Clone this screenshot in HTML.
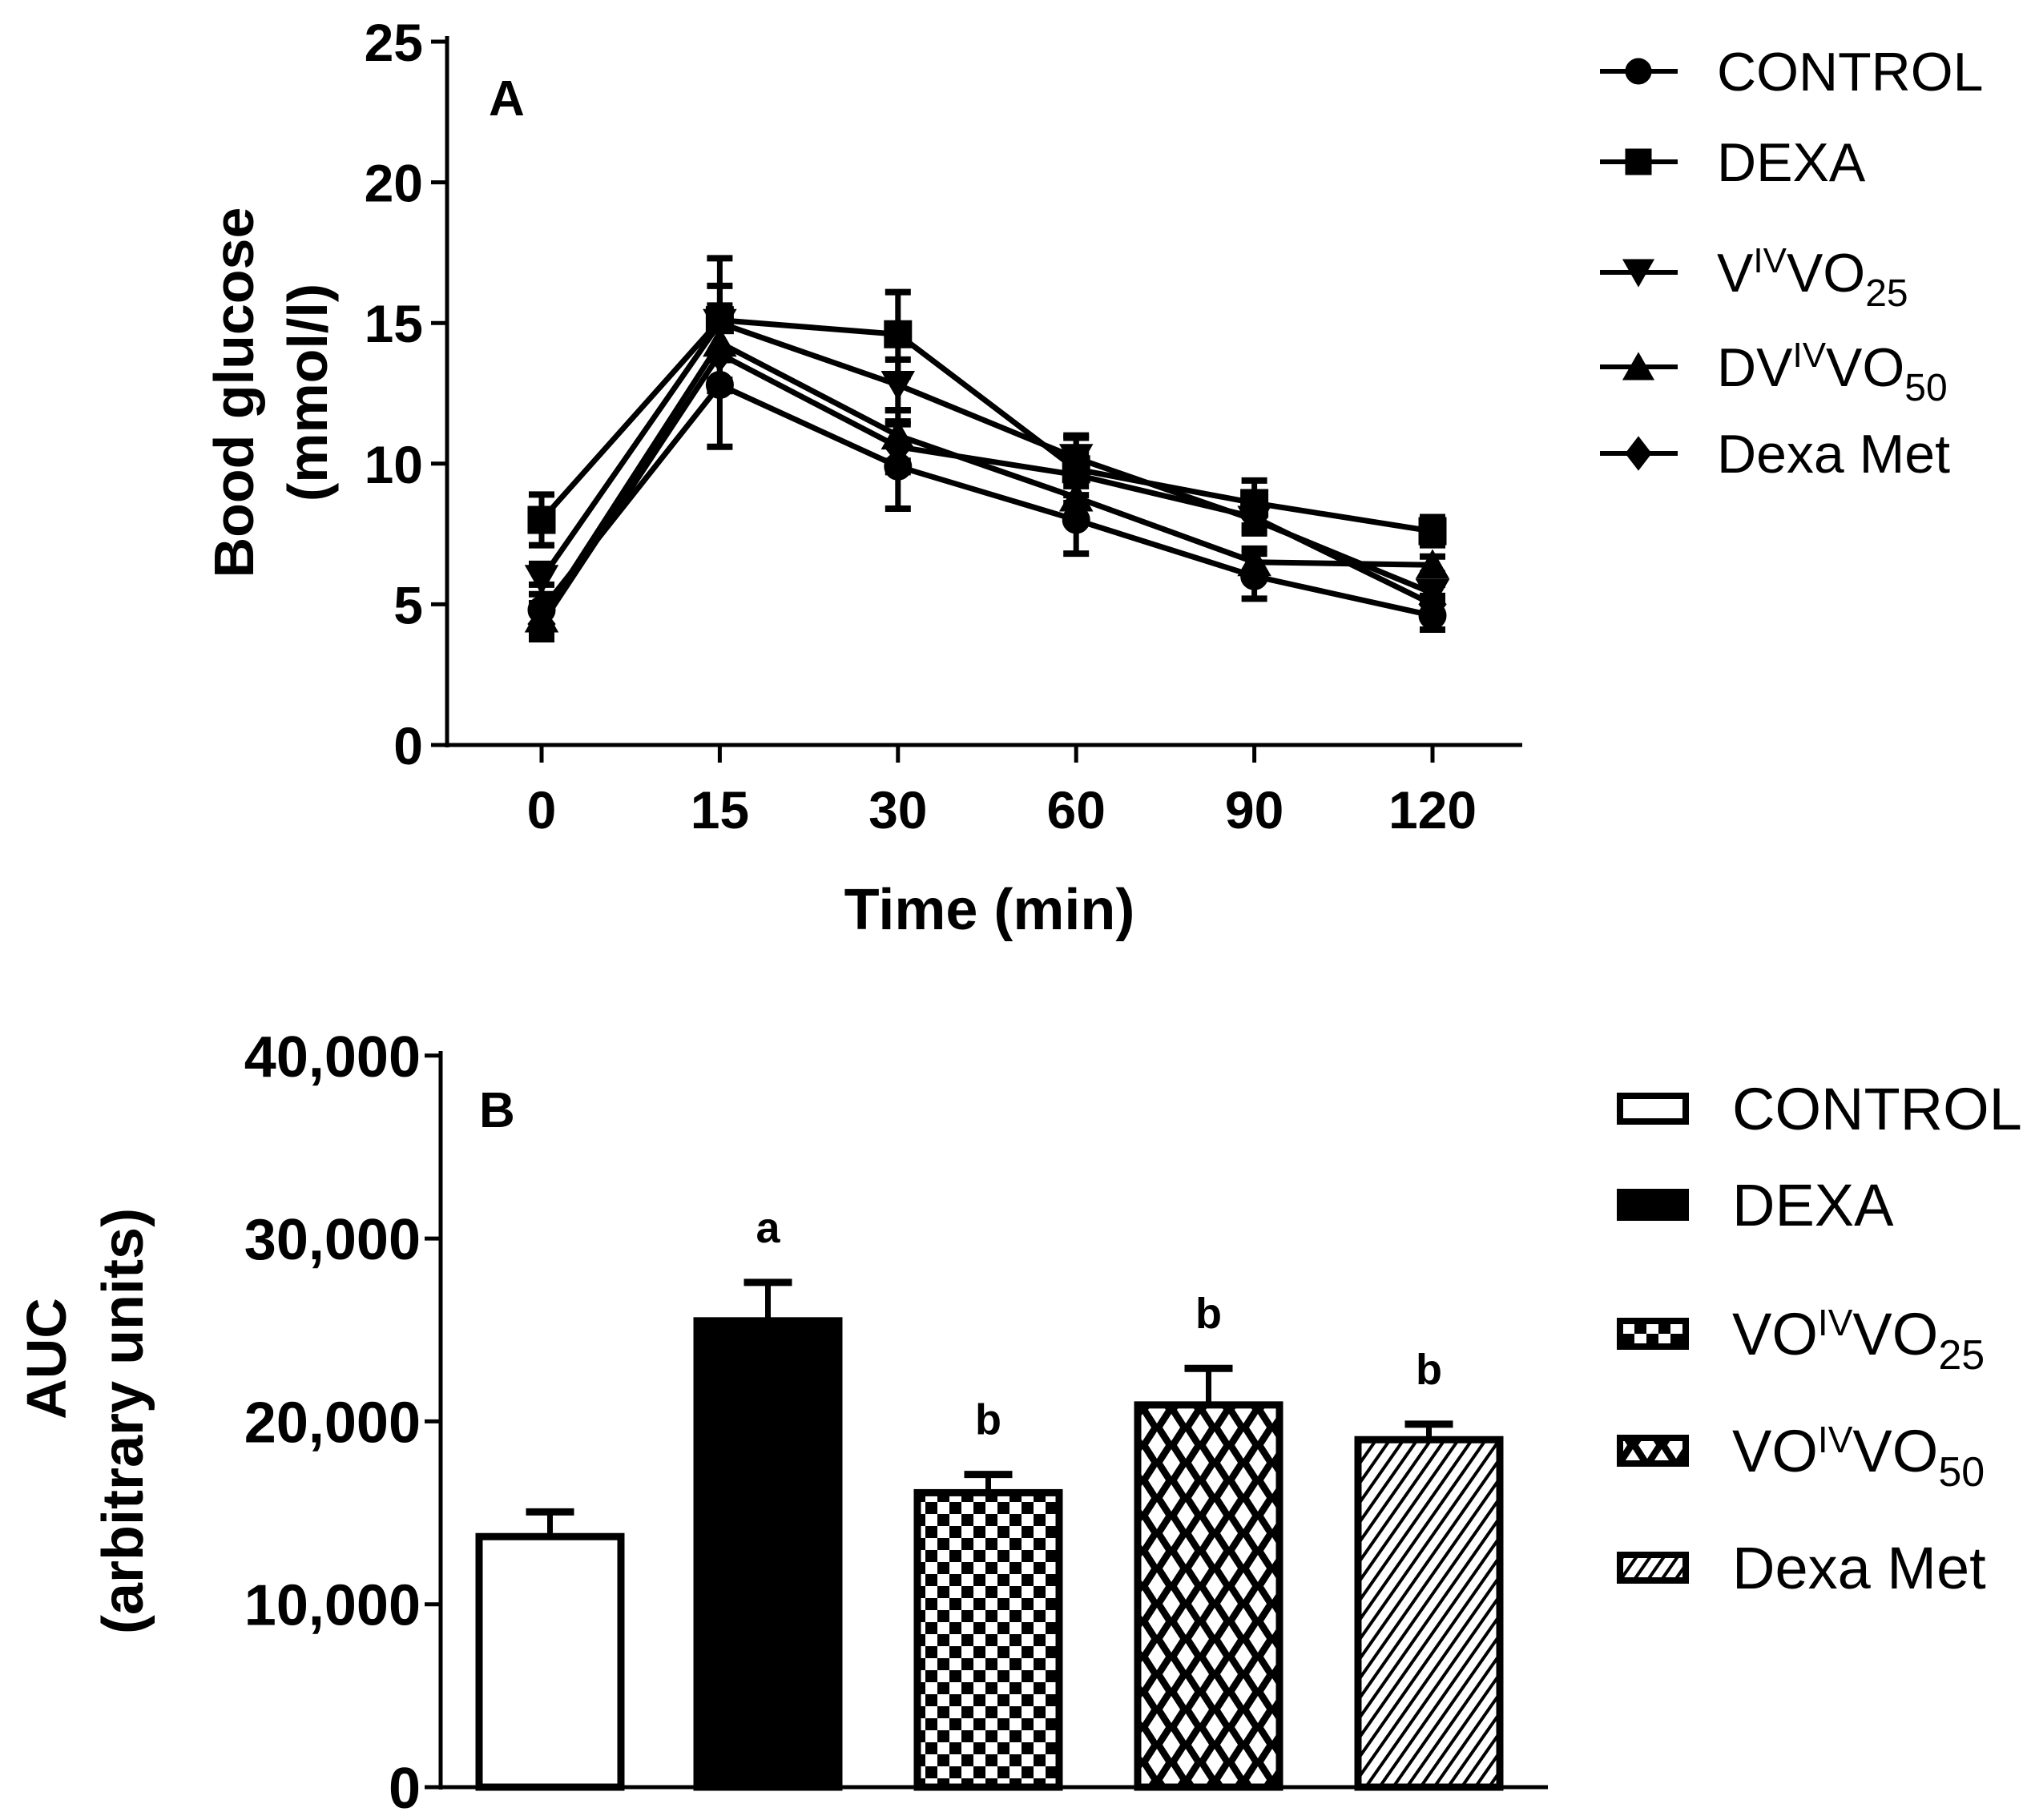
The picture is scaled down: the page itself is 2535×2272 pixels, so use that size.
<!DOCTYPE html>
<html><head><meta charset="utf-8"><style>
html,body{margin:0;padding:0;background:#fff;}
svg{display:block;font-family:"Liberation Sans",Arial,sans-serif;}
</style></head><body>
<svg id="fig" width="2535" height="2272" viewBox="0 0 2535 2272" xmlns="http://www.w3.org/2000/svg">
<defs>
<pattern id="pCheck" patternUnits="userSpaceOnUse" width="30" height="30"><rect width="30" height="30" fill="#fff"/><rect width="15" height="15" fill="#000"/><rect x="15" y="15" width="15" height="15" fill="#000"/></pattern>
<pattern id="pDiamond" patternUnits="userSpaceOnUse" width="36" height="44" x="4"><rect width="36" height="44" fill="#000"/><polygon points="18,5 29,22 18,39 7,22" fill="#fff"/><polygon points="0,-17 11,0 0,17 -11,0" fill="#fff"/><polygon points="36,-17 47,0 36,17 25,0" fill="#fff"/><polygon points="0,27 11,44 0,61 -11,44" fill="#fff"/><polygon points="36,27 47,44 36,61 25,44" fill="#fff"/></pattern>
<pattern id="pDiag" patternUnits="userSpaceOnUse" width="14" height="14" patternTransform="rotate(35)"><rect width="14" height="14" fill="#fff"/><rect width="4" height="14" fill="#000"/></pattern>
</defs>
<g id="panelA"></g>
<g id="panelB"></g>
</svg>
<script>
const NS="http://www.w3.org/2000/svg";
// Panel A data
const timeLabels=["0","15","30","60","90","120"];
const seriesNames=["CONTROL","DEXA","V\u1d35\u2c7dVO25","DV\u1d35\u2c7dVO50","Dexa Met"];
const controlVals=[4.8,12.8,9.9,8.0,6.0,4.6];
const dexaVals=[8.0,15.1,14.6,9.8,8.6,7.6];
const v25Vals=[5.9,15.0,12.8,10.2,8.0,5.4];
const dv50Vals=[4.5,14.3,11.0,8.8,6.5,6.4];
const dexaMetVals=[4.3,13.9,10.6,9.6,8.1,5.0];
const errVals=[0.9,2.2,1.5,1.2,0.8,0.5];
const yTicksA=[0,5,10,15,20,25];
// Panel B data
const barNames=["CONTROL","DEXA","VO25","VO50","Dexa Met"];
const aucVals=[13700,25500,16100,20900,19000];
const aucErr=[1350,2100,1000,2000,850];
const sigLetters=["","a","b","b","b"];
const yTicksB=[0,10000,20000,30000,40000];

function el(parent,tag,attrs,name,inter){const e=document.createElementNS(NS,tag);for(const k in attrs)e.setAttribute(k,attrs[k]);


parent.appendChild(e);return e;}

const A=document.getElementById('panelA');
const xA=i=>676+i*222.4;
const yA=v=>930-v*35.12;
el(A,'line',{x1:558,y1:45,x2:558,y2:933,stroke:'#000','stroke-width':5},'y-axis-a');
el(A,'line',{x1:556,y1:930,x2:1900,y2:930,stroke:'#000','stroke-width':5},'x-axis-a');
yTicksA.forEach(t=>{el(A,'line',{x1:538,y1:yA(t),x2:558,y2:yA(t),stroke:'#000','stroke-width':5},'y-tick-a');
const tx=el(A,'text',{x:528,y:yA(t)+24,'text-anchor':'end','font-size':66,'font-weight':'bold'},'y-tick-label-a');tx.textContent=t;});
timeLabels.forEach((l,i)=>{el(A,'line',{x1:xA(i),y1:930,x2:xA(i),y2:952,stroke:'#000','stroke-width':5},'x-tick-a');
const tx=el(A,'text',{x:xA(i),y:1034,'text-anchor':'middle','font-size':66,'font-weight':'bold'},'x-tick-label-a');tx.textContent=l;});
let t=el(A,'text',{x:1235,y:1160,'text-anchor':'middle','font-size':72,'font-weight':'bold'},'x-axis-title-a');t.textContent="Time (min)";
t=el(A,'text',{transform:'translate(316,490) rotate(-90)','text-anchor':'middle','font-size':70,'font-weight':'bold'},'y-axis-title-a');t.textContent="Bood glucose";
t=el(A,'text',{transform:'translate(408,490) rotate(-90)','text-anchor':'middle','font-size':70,'font-weight':'bold'},'y-axis-unit-a');t.textContent="(mmol/l)";
t=el(A,'text',{x:610,y:144,'font-size':62,'font-weight':'bold'},'panel-label-a');t.textContent="A";
const allSeries=[controlVals,dexaVals,v25Vals,dv50Vals,dexaMetVals];
const markers=['circle','square','down','up','diamond'];
function marker(g,type,x,y,s,name){
 if(type==='circle')return el(g,'circle',{cx:x,cy:y,r:s},name);
 if(type==='square')return el(g,'rect',{x:x-s,y:y-s,width:2*s,height:2*s},name);
 if(type==='down')return el(g,'polygon',{points:`${x-s*1.2},${y-s} ${x+s*1.2},${y-s} ${x},${y+s*1.1}`},name);
 if(type==='up')return el(g,'polygon',{points:`${x-s*1.2},${y+s} ${x+s*1.2},${y+s} ${x},${y-s*1.1}`},name);
 return el(g,'polygon',{points:`${x},${y-s*1.3} ${x+s},${y} ${x},${y+s*1.3} ${x-s},${y}`},name);
}
allSeries.forEach((vals,si)=>{
 const g=el(A,'g',{fill:'#000',stroke:'#000'},'series-'+seriesNames[si].toLowerCase().replace(/[^a-z0-9]+/g,'-'));
 el(g,'polyline',{points:vals.map((v,i)=>xA(i)+','+yA(v)).join(' '),fill:'none','stroke-width':7},'series-line');
 vals.forEach((v,i)=>{
  const e=errVals[i]*(si===0||si===1?1:0.6);
  el(g,'line',{x1:xA(i),y1:yA(v+e),x2:xA(i),y2:yA(v-e),'stroke-width':7},'error-bar');
  el(g,'line',{x1:xA(i)-16,y1:yA(v+e),x2:xA(i)+16,y2:yA(v+e),'stroke-width':8},'error-cap');
  el(g,'line',{x1:xA(i)-16,y1:yA(v-e),x2:xA(i)+16,y2:yA(v-e),'stroke-width':8},'error-cap');
  marker(g,markers[si],xA(i),yA(v),17,'data-point');
 });
});
const legY=[89,202,340,458,566];
const legHTML=['CONTROL','DEXA','V<tspan dy="-24" font-size="44">IV</tspan><tspan dy="24">VO</tspan><tspan dy="18" font-size="48">25</tspan>','DV<tspan dy="-24" font-size="44">IV</tspan><tspan dy="24">VO</tspan><tspan dy="18" font-size="48">50</tspan>','Dexa Met'];
legHTML.forEach((h,i)=>{
 const g=el(A,'g',{fill:'#000',stroke:'#000'},'legend-entry-a');
 el(g,'line',{x1:1997,y1:legY[i],x2:2094,y2:legY[i],'stroke-width':6},'legend-line');
 marker(g,markers[i],2045,legY[i],16,'legend-marker');
 const tx=el(g,'text',{x:2143,y:legY[i]+24,'font-size':68,stroke:'none'},'legend-label');tx.innerHTML=h;
});

// Panel B
const B=document.getElementById('panelB');
const yB=v=>2231-v*0.02283;
const barX=[598,870,1145,1420,1695];const barW=177;
const fills=['#fff','#000','url(#pCheck)','url(#pDiamond)','url(#pDiag)'];
el(B,'line',{x1:550,y1:1312,x2:550,y2:2234,stroke:'#000','stroke-width':5},'y-axis-b');
el(B,'line',{x1:548,y1:2231,x2:1932,y2:2231,stroke:'#000','stroke-width':5},'x-axis-b');
yTicksB.forEach(v=>{el(B,'line',{x1:530,y1:yB(v),x2:550,y2:yB(v),stroke:'#000','stroke-width':5},'y-tick-b');
const tx=el(B,'text',{x:525,y:yB(v)+26,'text-anchor':'end','font-size':72,'font-weight':'bold'},'y-tick-label-b');tx.textContent=v===0?'0':v.toLocaleString('en-US');});
t=el(B,'text',{x:598,y:1407,'font-size':62,'font-weight':'bold'},'panel-label-b');t.textContent="B";
t=el(B,'text',{transform:'translate(82,1696) rotate(-90)','text-anchor':'middle','font-size':70,'font-weight':'bold'},'y-axis-title-b');t.textContent="AUC";
t=el(B,'text',{transform:'translate(178,1774) rotate(-90)','text-anchor':'middle','font-size':72,'font-weight':'bold'},'y-axis-unit-b');t.textContent="(arbitrary units)";
aucVals.forEach((v,i)=>{
 const cx=barX[i]+barW/2;
 el(B,'line',{x1:cx,y1:yB(v),x2:cx,y2:yB(v+aucErr[i]),stroke:'#000','stroke-width':7},'bar-error');
 el(B,'line',{x1:cx-30,y1:yB(v+aucErr[i]),x2:cx+30,y2:yB(v+aucErr[i]),stroke:'#000','stroke-width':9},'bar-error-cap');
 el(B,'rect',{x:barX[i],y:yB(v),width:barW,height:2231-yB(v),fill:fills[i],stroke:'#000','stroke-width':9},'bar-'+barNames[i].toLowerCase().replace(/[^a-z0-9]+/g,'-'));
 if(sigLetters[i]){const tx=el(B,'text',{x:cx,y:yB(v+aucErr[i])-50,'text-anchor':'middle','font-size':54,'font-weight':'bold'},'significance-letter');tx.textContent=sigLetters[i];}
});
const legYB=[1384,1504,1665,1811,1957];
const legB=['CONTROL','DEXA','VO<tspan dy="-24" font-size="46">IV</tspan><tspan dy="24">VO</tspan><tspan dy="18" font-size="52">25</tspan>','VO<tspan dy="-24" font-size="46">IV</tspan><tspan dy="24">VO</tspan><tspan dy="18" font-size="52">50</tspan>','Dexa Met'];
legB.forEach((h,i)=>{
 const g=el(B,'g',{},'legend-entry-b');
 el(g,'rect',{x:2022,y:legYB[i]-16,width:82,height:32,fill:fills[i],stroke:'#000','stroke-width':8},'legend-swatch');
 const tx=el(g,'text',{x:2162,y:legYB[i]+26,'font-size':74},'legend-label');tx.innerHTML=h;
});
</script>
</body></html>
